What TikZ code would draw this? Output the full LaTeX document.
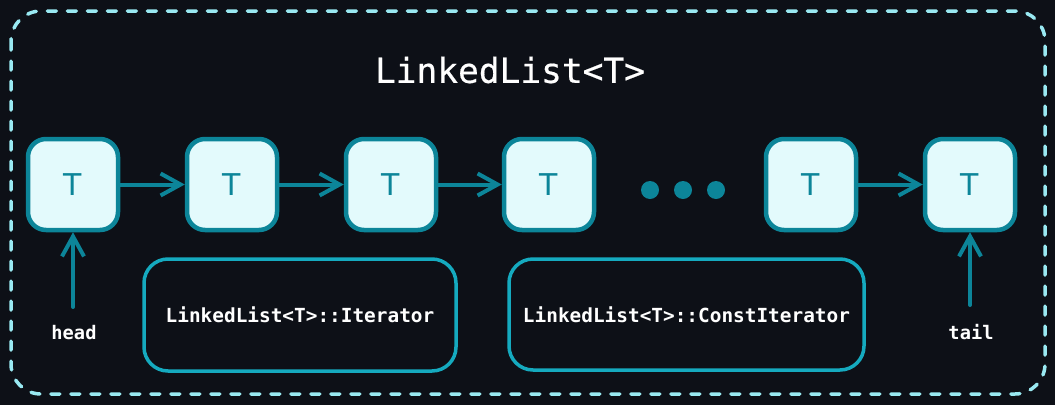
\documentclass[tikz,border=0pt]{standalone}
\usepackage{fontspec}
\setmonofont{DejaVu Sans Mono}
\newfontfamily\titlefont[FakeBold=0.5]{DejaVu Sans Mono}
\newfontfamily\nodefont{DejaVu Sans}
\usetikzlibrary{arrows.meta}
\definecolor{bgc}{HTML}{0D1017}
\definecolor{dashc}{HTML}{99E9F2}
\definecolor{boxfill}{HTML}{E3FAFC}
\definecolor{boxline}{HTML}{0C8599}
\definecolor{itline}{HTML}{15AABF}
\tikzset{
  elem/.style={draw=boxline, fill=boxfill, line width=4.5pt, rounded corners=18pt,
    minimum width=90pt, minimum height=91pt, inner sep=0pt,
    font=\nodefont\fontsize{30}{30}\selectfont, text=boxline},
  link/.style={draw=boxline, line width=4pt, line cap=round,
    -{Straight Barb[length=20pt,width=22pt,line width=4pt]}},
  itbox/.style={draw=itline, line width=3.5pt, rounded corners=24pt, inner sep=0pt,
    text=white, font=\ttfamily\bfseries\fontsize{19.4}{22}\selectfont},
  lbl/.style={text=white, font=\ttfamily\bfseries\fontsize{18.7}{22}\selectfont},
  dotc/.style={fill=boxline, draw=none, circle, minimum size=18pt, inner sep=0pt},
}
\begin{document}
\begin{tikzpicture}[x=1pt,y=-1pt]
\useasboundingbox (0,0) rectangle (1055,405);
\fill[bgc] (0,0) rectangle (1055,405);
\draw[dashc, line width=3.5pt, dash pattern=on 9pt off 11pt, line cap=round, rounded corners=30pt]
  (11,11) rectangle (1045,394);
\node[text=white, font=\titlefont\fontsize{34.5}{40}\selectfont] (title) at (510,70) {LinkedList<T>};
\node[elem] (n1) at (73,184.5) {T};
\node[elem] (n2) at (232,184.5) {T};
\node[elem] (n3) at (391,184.5) {T};
\node[elem] (n4) at (549,184.5) {T};
\node[elem] (n5) at (811,184.5) {T};
\node[elem] (n6) at (970,184.5) {T};
\node[dotc] (d1) at (650,190) {};
\node[dotc] (d2) at (683,190) {};
\node[dotc] (d3) at (716,190) {};
\draw[link] (n1.east) -- (n2.west);
\draw[link] (n2.east) -- (n3.west);
\draw[link] (n3.east) -- (n4.west);
\draw[link] (n5.east) -- (n6.west);
\node[itbox, minimum width=312pt, minimum height=112pt] (it) at (300,315) {LinkedList<T>::Iterator};
\node[itbox, minimum width=355pt, minimum height=111pt] (cit) at (686.5,314.5) {LinkedList<T>::ConstIterator};
\node[lbl] (head) at (74,333) {head};
\node[lbl] (tail) at (971,332) {tail};
\coordinate (hs) at (73,307);
\coordinate (ts) at (970,305);
\draw[link] (hs) -- (n1.south);
\draw[link] (ts) -- (n6.south);
\end{tikzpicture}
\end{document}
